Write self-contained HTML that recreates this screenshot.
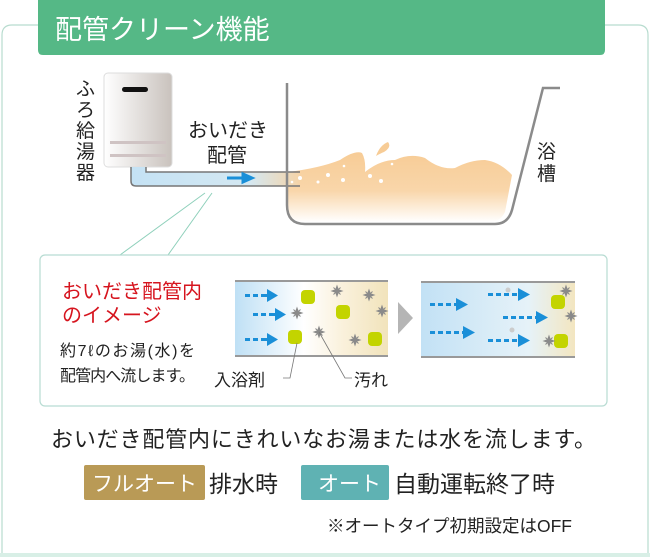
<!DOCTYPE html>
<html><head><meta charset="utf-8"><style>
body{margin:0;background:#fff;width:650px;height:557px;overflow:hidden}
svg{display:block}
text{font-family:"Liberation Sans","Noto Sans CJK JP",sans-serif}
</style></head><body>
<svg width="650" height="557" viewBox="0 0 650 557" xmlns="http://www.w3.org/2000/svg">
<defs>
<linearGradient id="heat" x1="0" x2="1"><stop offset="0" stop-color="#fff"/><stop offset="1" stop-color="#c9c2bd"/></linearGradient>
<linearGradient id="pipeg" x1="0" x2="1"><stop offset="0" stop-color="#c4e2f4"/><stop offset="0.7" stop-color="#d4e8f2"/><stop offset="1" stop-color="#f5d4a8"/></linearGradient>
<linearGradient id="water" x1="0" y1="0" x2="0" y2="1"><stop offset="0" stop-color="#f7cc96"/><stop offset="0.55" stop-color="#f9d6aa"/><stop offset="1" stop-color="#fff"/></linearGradient>
<linearGradient id="p1" x1="0" x2="1"><stop offset="0" stop-color="#bfe0f5"/><stop offset="0.45" stop-color="#fff"/><stop offset="0.7" stop-color="#faf1dc"/><stop offset="1" stop-color="#f1e3bb"/></linearGradient>
<linearGradient id="p2" x1="0" x2="1"><stop offset="0" stop-color="#c2e1f5"/><stop offset="0.7" stop-color="#e6f2f8"/><stop offset="1" stop-color="#f3e6c0"/></linearGradient>
<g id="st"><path d="M0,-5 L1.3,-1.3 L5,0 L1.3,1.3 L0,5 L-1.3,1.3 L-5,0 L-1.3,-1.3Z M-3.5,-3.5 L3.5,3.5 M3.5,-3.5 L-3.5,3.5" fill="#8a8a8a" stroke="#8a8a8a" stroke-width="1"/></g>
<g id="bl"><rect x="-7" y="-7" width="14" height="14" rx="4" fill="#c3d400"/></g>
</defs>
<path d="M40,25 H12 Q2,25 2,35 V557 M605,25 H638 Q648,25 648,35 V557" fill="none" stroke="#b8dccf" stroke-width="1.2"/>
<line x1="0" y1="555" x2="650" y2="555" stroke="#d8efe6" stroke-width="4"/>
<path d="M38,0 H605 V50 Q605,55 600,55 H43 Q38,55 38,50 Z" fill="#55b886"/>
<text x="55" y="39" font-size="27" fill="#fff">配管クリーン機能</text>
<rect x="104" y="73" width="68" height="94" rx="4" fill="url(#heat)" stroke="#ddd"/>
<rect x="122" y="87" width="26" height="5" rx="2.5" fill="#111"/>
<rect x="110" y="141" width="56" height="3" fill="#cfc3c3"/>
<rect x="110" y="154" width="56" height="3" fill="#cfc3c3"/>
<text font-size="19" fill="#222"><tspan x="76" y="95">ふ</tspan><tspan x="76" y="116">ろ</tspan><tspan x="76" y="137">給</tspan><tspan x="76" y="158">湯</tspan><tspan x="76" y="179">器</tspan></text>
<text x="188" y="137" font-size="20" fill="#222">おいだき</text>
<text x="207" y="162" font-size="20" fill="#222">配管</text>
<path d="M288,172 Q320,168 340,160 Q355,150 362,153 Q366,160 365,172 Q380,160 395,160 Q410,153 425,158 Q440,170 455,168 Q470,160 485,160 Q500,162 512,175 L505,212 Q500,222 490,222 H305 Q288,222 288,205 Z" fill="url(#water)"/>
<path d="M376,156 Q380,145 388,142 Q392,147 384,152 Q379,154 376,156Z" fill="#f7cc96"/>
<path d="M131,167 V181 Q131,186 136,186 H300 V172 H146 V167 Z" fill="url(#pipeg)"/>
<path d="M131,167 V181 Q131,186 136,186 H300 M146,167 V172 H300" fill="none" stroke="#777" stroke-width="1.5"/>
<path d="M227,178 H245 M243,174 L252,178 L243,182Z" stroke="#1a8fd8" stroke-width="3" fill="#1a8fd8"/>
<g fill="#fff"><circle cx="292" cy="182" r="1.3"/><circle cx="300" cy="178" r="2"/><circle cx="318" cy="182" r="1.5"/><circle cx="328" cy="175" r="2"/><circle cx="343" cy="180" r="2"/><circle cx="344" cy="166" r="1.3"/><circle cx="370" cy="176" r="2"/><circle cx="381" cy="181" r="2"/><circle cx="392" cy="164" r="1.3"/></g>
<path d="M287,83 V205 Q287,224 305,224 H495 Q508,224 512,210 L543,88 H560" fill="none" stroke="#8b8b8b" stroke-width="2.5"/>
<text font-size="19" fill="#222"><tspan x="537" y="158">浴</tspan><tspan x="537" y="180">槽</tspan></text>
<path d="M205,193 L120,255 M212,193 L168,255" stroke="#8fd0bb" stroke-width="1" fill="none"/>
<rect x="40" y="255" width="567" height="151" rx="5" fill="#fff" stroke="#b8dcd3" stroke-width="1.2"/>
<text x="62" y="298" font-size="20" fill="#d6141e">おいだき配管内</text>
<text x="62" y="322" font-size="20" fill="#d6141e">のイメージ</text>
<text x="60" y="356" font-size="16" fill="#222" textLength="135">約7ℓのお湯(水)を</text>
<text x="60" y="381" font-size="16" fill="#222" textLength="135">配管内へ流します。</text>
<rect x="235" y="281" width="153" height="75" fill="url(#p1)"/>
<path d="M235,281 H388 M235,356 H388" stroke="#999" stroke-width="2"/>
<g fill="#1a8fd8">
<rect x="245" y="294" width="5" height="3"/><rect x="253" y="294" width="5" height="3"/><rect x="261" y="294" width="6" height="3"/><path d="M267,289 L278,295.5 L267,302Z"/>
<rect x="253" y="313" width="5" height="3"/><rect x="261" y="313" width="5" height="3"/><rect x="269" y="313" width="6" height="3"/><path d="M275,308 L286,314.5 L275,321Z"/>
<rect x="245" y="338" width="5" height="3"/><rect x="253" y="338" width="5" height="3"/><rect x="261" y="338" width="6" height="3"/><path d="M267,333 L278,339.5 L267,346Z"/>
</g>
<use href="#bl" x="308" y="297"/><use href="#bl" x="343" y="312"/><use href="#bl" x="295" y="337"/><use href="#bl" x="375" y="339"/>
<use href="#st" x="337" y="291"/><use href="#st" x="369" y="295"/><use href="#st" x="382" y="311"/><use href="#st" x="297" y="313"/><use href="#st" x="319" y="332"/><use href="#st" x="355" y="340"/>
<path d="M297,343 L290,378 H283 M319,332 L345,378 H352" stroke="#777" stroke-width="0.8" fill="none"/>
<text x="214" y="386" font-size="17" fill="#222">入浴剤</text>
<text x="354" y="386" font-size="17" fill="#222">汚れ</text>
<path d="M398,302 L413,318 L398,334Z" fill="#b5b5b5"/>
<rect x="421" y="282" width="154" height="75" fill="url(#p2)"/>
<path d="M421,282 H575 M421,357 H575" stroke="#999" stroke-width="2"/>
<g stroke="#1a8fd8" stroke-width="3" stroke-dasharray="5,3" fill="none">
<line x1="430" y1="304.5" x2="456" y2="304.5"/>
<line x1="488" y1="294.5" x2="518" y2="294.5"/>
<line x1="503" y1="317.5" x2="536" y2="317.5"/>
<line x1="430" y1="332.5" x2="463" y2="332.5"/>
<line x1="488" y1="340.5" x2="518" y2="340.5"/>
</g>
<g fill="#1a8fd8">
<path d="M456,298 L468,304.5 L456,311Z"/><path d="M518,288 L530,294.5 L518,301Z"/><path d="M536,311 L548,317.5 L536,324Z"/><path d="M463,326 L475,332.5 L463,339Z"/><path d="M518,334 L530,340.5 L518,347Z"/>
</g>
<circle cx="508" cy="290" r="2.5" fill="#ccc"/><circle cx="512" cy="330" r="2.5" fill="#ccc"/>
<use href="#bl" x="558" y="302"/><use href="#bl" x="561" y="341"/>
<use href="#st" x="566" y="291"/><use href="#st" x="571" y="316"/><use href="#st" x="549" y="341"/>
<text x="51" y="447" font-size="22" fill="#222" textLength="545">おいだき配管内にきれいなお湯または水を流します。</text>
<rect x="84" y="465" width="121" height="35" rx="2" fill="#b99a56"/>
<text x="92" y="491" font-size="21" fill="#fff">フルオート</text>
<text x="209" y="492" font-size="23" fill="#222">排水時</text>
<rect x="301" y="465" width="88" height="35" rx="2" fill="#5fb2b3"/>
<text x="318" y="491" font-size="21" fill="#fff">オート</text>
<text x="394" y="492" font-size="23" fill="#222">自動運転終了時</text>
<text x="327" y="532" font-size="17.5" fill="#222">※オートタイプ初期設定はOFF</text>
</svg>
</body></html>
